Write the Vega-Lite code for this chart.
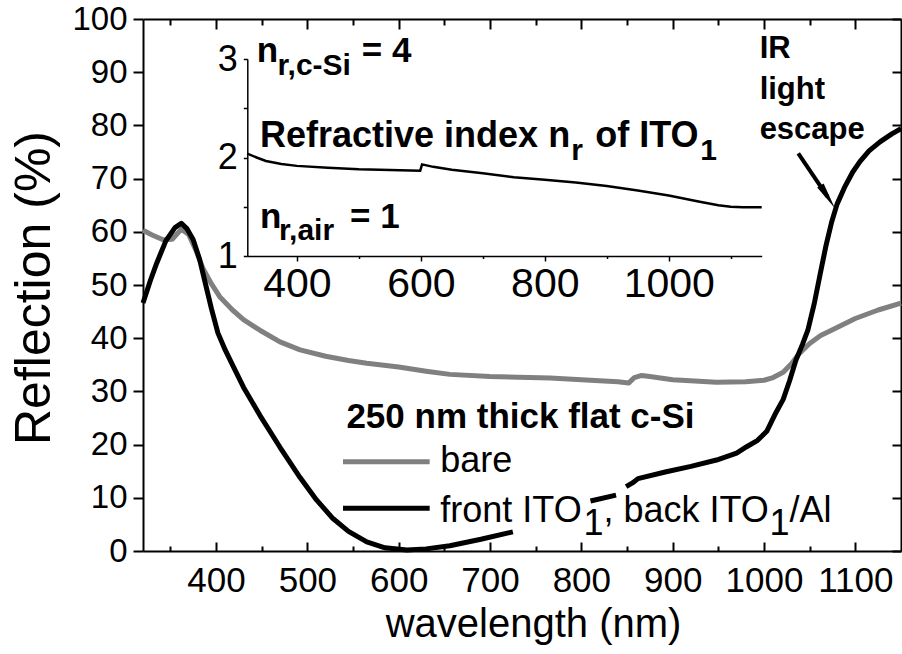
{
  "$schema": "https://vega.github.io/schema/vega-lite/v6.json",
  "width": 758,
  "height": 532,
  "autosize": {"type": "none"},
  "padding": {"left": 143, "top": 19, "right": 1, "bottom": 103},
  "background": "white",
  "config": {
    "view": {"stroke": null},
    "font": "Liberation Sans",
    "axis": {"grid": false, "domainColor": "#000", "tickColor": "#000", "labelColor": "#000", "titleColor": "#000", "labelFont": "Liberation Sans", "titleFont": "Liberation Sans", "titleFontWeight": "normal", "labelFlush": false, "labelOverlap": false, "format": "d"}
  },
  "datasets": {
    "main": [
      {"wl": 320, "R": 60.3, "series": "bare", "seg": "g"},
      {"wl": 330, "R": 59.4, "series": "bare", "seg": "g"},
      {"wl": 342, "R": 58.5, "series": "bare", "seg": "g"},
      {"wl": 352, "R": 58.6, "series": "bare", "seg": "g"},
      {"wl": 362, "R": 60.5, "series": "bare", "seg": "g"},
      {"wl": 370, "R": 59.5, "series": "bare", "seg": "g"},
      {"wl": 378, "R": 56.5, "series": "bare", "seg": "g"},
      {"wl": 386, "R": 53.0, "series": "bare", "seg": "g"},
      {"wl": 395, "R": 50.2, "series": "bare", "seg": "g"},
      {"wl": 404, "R": 47.8, "series": "bare", "seg": "g"},
      {"wl": 418, "R": 45.3, "series": "bare", "seg": "g"},
      {"wl": 430, "R": 43.5, "series": "bare", "seg": "g"},
      {"wl": 448, "R": 41.5, "series": "bare", "seg": "g"},
      {"wl": 470, "R": 39.3, "series": "bare", "seg": "g"},
      {"wl": 492, "R": 37.8, "series": "bare", "seg": "g"},
      {"wl": 520, "R": 36.6, "series": "bare", "seg": "g"},
      {"wl": 545, "R": 35.8, "series": "bare", "seg": "g"},
      {"wl": 565, "R": 35.3, "series": "bare", "seg": "g"},
      {"wl": 600, "R": 34.6, "series": "bare", "seg": "g"},
      {"wl": 630, "R": 33.8, "series": "bare", "seg": "g"},
      {"wl": 656, "R": 33.2, "series": "bare", "seg": "g"},
      {"wl": 700, "R": 32.8, "series": "bare", "seg": "g"},
      {"wl": 766, "R": 32.5, "series": "bare", "seg": "g"},
      {"wl": 800, "R": 32.2, "series": "bare", "seg": "g"},
      {"wl": 840, "R": 31.8, "series": "bare", "seg": "g"},
      {"wl": 852, "R": 31.6, "series": "bare", "seg": "g"},
      {"wl": 858, "R": 32.6, "series": "bare", "seg": "g"},
      {"wl": 866, "R": 33.0, "series": "bare", "seg": "g"},
      {"wl": 875, "R": 32.8, "series": "bare", "seg": "g"},
      {"wl": 900, "R": 32.2, "series": "bare", "seg": "g"},
      {"wl": 948, "R": 31.7, "series": "bare", "seg": "g"},
      {"wl": 980, "R": 31.8, "series": "bare", "seg": "g"},
      {"wl": 1000, "R": 32.1, "series": "bare", "seg": "g"},
      {"wl": 1010, "R": 32.6, "series": "bare", "seg": "g"},
      {"wl": 1021, "R": 33.6, "series": "bare", "seg": "g"},
      {"wl": 1030, "R": 35.2, "series": "bare", "seg": "g"},
      {"wl": 1039, "R": 37.2, "series": "bare", "seg": "g"},
      {"wl": 1050, "R": 39.0, "series": "bare", "seg": "g"},
      {"wl": 1062, "R": 40.5, "series": "bare", "seg": "g"},
      {"wl": 1075, "R": 41.6, "series": "bare", "seg": "g"},
      {"wl": 1100, "R": 43.7, "series": "bare", "seg": "g"},
      {"wl": 1125, "R": 45.3, "series": "bare", "seg": "g"},
      {"wl": 1150, "R": 46.6, "series": "bare", "seg": "g"},
      {"wl": 320, "R": 46.6, "series": "front", "seg": "b1"},
      {"wl": 328, "R": 50.8, "series": "front", "seg": "b1"},
      {"wl": 335, "R": 54.1, "series": "front", "seg": "b1"},
      {"wl": 345, "R": 58.3, "series": "front", "seg": "b1"},
      {"wl": 355, "R": 60.8, "series": "front", "seg": "b1"},
      {"wl": 362, "R": 61.6, "series": "front", "seg": "b1"},
      {"wl": 368, "R": 60.6, "series": "front", "seg": "b1"},
      {"wl": 375, "R": 58.5, "series": "front", "seg": "b1"},
      {"wl": 382, "R": 54.8, "series": "front", "seg": "b1"},
      {"wl": 389, "R": 49.8, "series": "front", "seg": "b1"},
      {"wl": 395, "R": 45.5, "series": "front", "seg": "b1"},
      {"wl": 402, "R": 41.0, "series": "front", "seg": "b1"},
      {"wl": 410, "R": 37.8, "series": "front", "seg": "b1"},
      {"wl": 418, "R": 35.0, "series": "front", "seg": "b1"},
      {"wl": 430, "R": 30.8, "series": "front", "seg": "b1"},
      {"wl": 448, "R": 25.5, "series": "front", "seg": "b1"},
      {"wl": 470, "R": 19.5, "series": "front", "seg": "b1"},
      {"wl": 492, "R": 13.8, "series": "front", "seg": "b1"},
      {"wl": 510, "R": 9.6, "series": "front", "seg": "b1"},
      {"wl": 528, "R": 6.1, "series": "front", "seg": "b1"},
      {"wl": 545, "R": 3.7, "series": "front", "seg": "b1"},
      {"wl": 565, "R": 1.7, "series": "front", "seg": "b1"},
      {"wl": 585, "R": 0.6, "series": "front", "seg": "b1"},
      {"wl": 609, "R": 0.2, "series": "front", "seg": "b1"},
      {"wl": 630, "R": 0.4, "series": "front", "seg": "b1"},
      {"wl": 656, "R": 1.0, "series": "front", "seg": "b1"},
      {"wl": 690, "R": 2.2, "series": "front", "seg": "b1"},
      {"wl": 725, "R": 3.6, "series": "front", "seg": "b1"},
      {"wl": 810, "R": 9.4, "series": "front", "seg": "b2"},
      {"wl": 838, "R": 10.5, "series": "front", "seg": "b2"},
      {"wl": 849, "R": 12.1, "series": "front", "seg": "b3"},
      {"wl": 856, "R": 12.8, "series": "front", "seg": "b3"},
      {"wl": 862, "R": 13.6, "series": "front", "seg": "b3"},
      {"wl": 893, "R": 14.9, "series": "front", "seg": "b3"},
      {"wl": 920, "R": 15.9, "series": "front", "seg": "b3"},
      {"wl": 948, "R": 17.1, "series": "front", "seg": "b3"},
      {"wl": 970, "R": 18.4, "series": "front", "seg": "b3"},
      {"wl": 981, "R": 19.6, "series": "front", "seg": "b3"},
      {"wl": 993, "R": 20.8, "series": "front", "seg": "b3"},
      {"wl": 1003, "R": 22.5, "series": "front", "seg": "b3"},
      {"wl": 1013, "R": 26.0, "series": "front", "seg": "b3"},
      {"wl": 1021, "R": 28.5, "series": "front", "seg": "b3"},
      {"wl": 1028, "R": 32.0, "series": "front", "seg": "b3"},
      {"wl": 1035, "R": 35.9, "series": "front", "seg": "b3"},
      {"wl": 1042, "R": 38.8, "series": "front", "seg": "b3"},
      {"wl": 1048, "R": 41.5, "series": "front", "seg": "b3"},
      {"wl": 1055, "R": 46.5, "series": "front", "seg": "b3"},
      {"wl": 1062, "R": 52.5, "series": "front", "seg": "b3"},
      {"wl": 1068, "R": 57.5, "series": "front", "seg": "b3"},
      {"wl": 1074, "R": 61.8, "series": "front", "seg": "b3"},
      {"wl": 1080, "R": 65.2, "series": "front", "seg": "b3"},
      {"wl": 1088, "R": 68.3, "series": "front", "seg": "b3"},
      {"wl": 1097, "R": 71.2, "series": "front", "seg": "b3"},
      {"wl": 1105, "R": 73.2, "series": "front", "seg": "b3"},
      {"wl": 1115, "R": 75.2, "series": "front", "seg": "b3"},
      {"wl": 1127, "R": 76.9, "series": "front", "seg": "b3"},
      {"wl": 1140, "R": 78.4, "series": "front", "seg": "b3"},
      {"wl": 1150, "R": 79.4, "series": "front", "seg": "b3"}
    ],
    "inset": [
      {"wl": 320, "n": 2.04},
      {"wl": 335, "n": 2.0},
      {"wl": 350, "n": 1.965},
      {"wl": 375, "n": 1.935},
      {"wl": 400, "n": 1.915},
      {"wl": 450, "n": 1.895},
      {"wl": 500, "n": 1.88},
      {"wl": 550, "n": 1.872},
      {"wl": 599, "n": 1.866},
      {"wl": 602, "n": 1.93},
      {"wl": 620, "n": 1.905},
      {"wl": 650, "n": 1.875},
      {"wl": 700, "n": 1.84},
      {"wl": 750, "n": 1.80},
      {"wl": 800, "n": 1.775},
      {"wl": 850, "n": 1.745},
      {"wl": 900, "n": 1.71},
      {"wl": 950, "n": 1.665},
      {"wl": 1000, "n": 1.615},
      {"wl": 1050, "n": 1.55},
      {"wl": 1080, "n": 1.515},
      {"wl": 1100, "n": 1.50},
      {"wl": 1120, "n": 1.494},
      {"wl": 1150, "n": 1.494}
    ]
  },
  "layer": [
    {
      "data": {"name": "main"},
      "layer": [
        {
          "mark": {"type": "line", "strokeWidth": 5, "strokeJoin": "round", "strokeCap": "butt"},
          "encoding": {
            "x": {"field": "wl", "type": "quantitative",
              "scale": {"domain": [320, 1150], "nice": false, "zero": false},
              "axis": {"orient": "bottom", "values": [400, 500, 600, 700, 800, 900, 1000, 1100], "format": "d", "tickSize": -9, "tickWidth": 2, "domainWidth": 2, "labelFontSize": 35, "labelBaseline": "alphabetic", "labelPadding": 49.7, "title": "wavelength (nm)", "titleFontSize": 40, "titleX": 390, "titleY": 85.7, "titleBaseline": "alphabetic", "titleAlign": "center"}},
            "y": {"field": "R", "type": "quantitative",
              "scale": {"domain": [0, 100], "nice": false, "zero": false},
              "axis": {"orient": "left", "values": [0, 10, 20, 30, 40, 50, 60, 70, 80, 90, 100], "format": "d", "tickSize": 10, "tickWidth": 2, "domainWidth": 2, "labelFontSize": 33, "labelPadding": 6, "title": "Reflection (%)", "titleFontSize": 50, "titleAngle": -90, "titleX": -94, "titleY": 268.5, "titleBaseline": "alphabetic", "titleAlign": "center"}},
            "color": {"field": "series", "type": "nominal", "scale": {"domain": ["bare", "front"], "range": ["#808080", "#000000"]}, "legend": null},
            "detail": {"field": "seg"}
          }
        },
        {
          "mark": {"type": "rule", "opacity": 0},
          "encoding": {
            "x": {"field": "wl", "type": "quantitative",
              "axis": {"orient": "bottom", "values": [350, 450, 550, 650, 750, 850, 950, 1050], "tickSize": -5, "tickWidth": 2, "domain": false, "labels": false, "title": null}}
          }
        },
        {
          "mark": {"type": "rule", "opacity": 0},
          "encoding": {
            "x": {"field": "wl", "type": "quantitative",
              "axis": {"orient": "top", "values": [400, 500, 600, 700, 800, 900, 1000, 1100], "tickSize": -10, "tickWidth": 2, "domainWidth": 2, "labels": false, "title": null}}
          }
        },
        {
          "mark": {"type": "rule", "opacity": 0},
          "encoding": {
            "x": {"field": "wl", "type": "quantitative",
              "axis": {"orient": "top", "values": [350, 450, 550, 650, 750, 850, 950, 1050], "tickSize": -6, "tickWidth": 2, "domain": false, "labels": false, "title": null}}
          }
        },
        {
          "mark": {"type": "rule", "opacity": 0},
          "encoding": {
            "y": {"field": "R", "type": "quantitative",
              "axis": {"orient": "right", "values": [0, 10, 20, 30, 40, 50, 60, 70, 80, 90, 100], "tickSize": -9, "tickWidth": 2, "domainWidth": 2, "labels": false, "title": null}}
          }
        },
        {
          "data": {"values": [{}]},
          "mark": {"type": "text", "text": "250 nm thick flat c-Si", "align": "left", "baseline": "alphabetic", "font": "Liberation Sans", "fontSize": 35, "fontWeight": "bold", "color": "black"},
          "encoding": {"x": {"datum": 542.7, "type": "quantitative", "axis": null}, "y": {"datum": 23.06, "type": "quantitative", "axis": null}}
        },
        {
          "data": {"values": [{}]},
          "mark": {"type": "rule", "color": "#808080", "strokeWidth": 5},
          "encoding": {"x": {"datum": 539, "type": "quantitative", "axis": null}, "x2": {"datum": 633.9}, "y": {"datum": 16.79, "type": "quantitative", "axis": null}}
        },
        {
          "data": {"values": [{}]},
          "mark": {"type": "rule", "color": "#000000", "strokeWidth": 5},
          "encoding": {"x": {"datum": 539, "type": "quantitative", "axis": null}, "x2": {"datum": 633.9}, "y": {"datum": 8.03, "type": "quantitative", "axis": null}}
        },
        {
          "data": {"values": [{}]},
          "mark": {"type": "text", "text": "bare", "align": "left", "baseline": "alphabetic", "font": "Liberation Sans", "fontSize": 36, "color": "black"},
          "encoding": {"x": {"datum": 645.5, "type": "quantitative", "axis": null}, "y": {"datum": 14.9, "type": "quantitative", "axis": null}}
        },
        {
          "data": {"values": [{}]},
          "mark": {"type": "text", "text": "front ITO", "align": "left", "baseline": "alphabetic", "font": "Liberation Sans", "fontSize": 36, "color": "black"},
          "encoding": {"x": {"datum": 645.5, "type": "quantitative", "axis": null}, "y": {"datum": 5.51, "type": "quantitative", "axis": null}}
        },
        {
          "data": {"values": [{}]},
          "mark": {"type": "text", "text": "1", "align": "left", "baseline": "alphabetic", "font": "Liberation Sans", "fontSize": 36, "color": "black"},
          "encoding": {"x": {"datum": 802.3, "type": "quantitative", "axis": null}, "y": {"datum": 3.1, "type": "quantitative", "axis": null}}
        },
        {
          "data": {"values": [{}]},
          "mark": {"type": "text", "text": ", back ITO", "align": "left", "baseline": "alphabetic", "font": "Liberation Sans", "fontSize": 36, "color": "black"},
          "encoding": {"x": {"datum": 824.2, "type": "quantitative", "axis": null}, "y": {"datum": 5.51, "type": "quantitative", "axis": null}}
        },
        {
          "data": {"values": [{}]},
          "mark": {"type": "text", "text": "1", "align": "left", "baseline": "alphabetic", "font": "Liberation Sans", "fontSize": 36, "color": "black"},
          "encoding": {"x": {"datum": 1006.1, "type": "quantitative", "axis": null}, "y": {"datum": 3.1, "type": "quantitative", "axis": null}}
        },
        {
          "data": {"values": [{}]},
          "mark": {"type": "text", "text": "/Al", "align": "left", "baseline": "alphabetic", "font": "Liberation Sans", "fontSize": 36, "color": "black"},
          "encoding": {"x": {"datum": 1028.0, "type": "quantitative", "axis": null}, "y": {"datum": 5.51, "type": "quantitative", "axis": null}}
        },
        {
          "data": {"values": [{}]},
          "mark": {"type": "text", "text": ["IR", "light", "escape"], "lineHeight": 40.5, "align": "left", "baseline": "alphabetic", "font": "Liberation Sans", "fontSize": 31, "fontWeight": "bold", "color": "black"},
          "encoding": {"x": {"datum": 995.2, "type": "quantitative", "axis": null}, "y": {"datum": 92.6, "type": "quantitative", "axis": null}}
        },
        {
          "data": {"values": [{}]},
          "mark": {"type": "rule", "color": "#000000", "strokeWidth": 4},
          "encoding": {"x": {"datum": 1037.5, "type": "quantitative", "axis": null}, "x2": {"datum": 1069.7}, "y": {"datum": 74.76, "type": "quantitative", "axis": null}, "y2": {"datum": 66.56}}
        },
        {
          "data": {"values": [{}]},
          "mark": {"type": "point", "shape": "M0,1L-0.28,-1L0.28,-1Z", "size": 729, "angle": 327.5, "filled": true, "color": "#000000", "opacity": 1, "strokeWidth": 0},
          "encoding": {"x": {"datum": 1069.7, "type": "quantitative", "axis": null}, "y": {"datum": 66.56, "type": "quantitative", "axis": null}}
        }
      ],
      "resolve": {"axis": {"x": "independent", "y": "independent"}}
    },
    {
      "data": {"name": "inset"},
      "layer": [
        {
          "mark": {"type": "line", "strokeWidth": 2.5, "color": "#000000"},
          "encoding": {
            "x": {"field": "wl", "type": "quantitative",
              "scale": {"domain": [320, 1150], "range": [104.3, 618.7], "nice": false, "zero": false},
              "axis": {"orient": "bottom", "offset": -295, "values": [400, 600, 800, 1000], "format": "d", "tickSize": 5, "tickWidth": 1.5, "domainWidth": 1.5, "labelFontSize": 41, "labelBaseline": "alphabetic", "labelPadding": 35.7, "title": null}},
            "y": {"field": "n", "type": "quantitative",
              "scale": {"domain": [1, 3], "range": [237, 40], "nice": false, "zero": false},
              "axis": {"orient": "left", "offset": -104.3, "values": [1, 3], "format": "d", "tickSize": 4, "tickWidth": 1.5, "domainWidth": 1.5, "labelFontSize": 36, "labelPadding": 6, "labelOverlap": false, "labelBound": false, "title": null}}
          }
        },
        {
          "mark": {"type": "rule", "opacity": 0},
          "encoding": {
            "x": {"field": "wl", "type": "quantitative",
              "axis": {"orient": "bottom", "offset": -295, "values": [500, 700, 900, 1100], "tickSize": 2.5, "tickWidth": 1.5, "domain": false, "labels": false, "title": null}}
          }
        },
        {
          "mark": {"type": "rule", "opacity": 0},
          "encoding": {
            "y": {"field": "n", "type": "quantitative",
              "axis": {"orient": "left", "offset": -104.3, "values": [2], "format": "d", "tickSize": 4, "tickWidth": 1.5, "domain": false, "labelFontSize": 36, "labelPadding": 6, "labelOverlap": false, "labelBound": false, "title": null}}
          }
        },
        {
          "mark": {"type": "rule", "opacity": 0},
          "encoding": {
            "y": {"field": "n", "type": "quantitative",
              "axis": {"orient": "left", "offset": -104.3, "values": [1.5, 2.5], "tickSize": 4, "tickWidth": 1.5, "domain": false, "labels": false, "title": null}}
          }
        },
        {
          "data": {"values": [{}]},
          "mark": {"type": "text", "text": "n", "align": "left", "baseline": "alphabetic", "font": "Liberation Sans", "fontSize": 35, "fontWeight": "bold", "color": "black"},
          "encoding": {"x": {"datum": 335.2, "type": "quantitative", "axis": null}, "y": {"datum": 2.973, "type": "quantitative", "axis": null}}
        },
        {
          "data": {"values": [{}]},
          "mark": {"type": "text", "text": "r,c-Si", "align": "left", "baseline": "alphabetic", "font": "Liberation Sans", "fontSize": 30, "fontWeight": "bold", "color": "black"},
          "encoding": {"x": {"datum": 368.8, "type": "quantitative", "axis": null}, "y": {"datum": 2.838, "type": "quantitative", "axis": null}}
        },
        {
          "data": {"values": [{}]},
          "mark": {"type": "text", "text": "= 4", "align": "left", "baseline": "alphabetic", "font": "Liberation Sans", "fontSize": 35, "fontWeight": "bold", "color": "black"},
          "encoding": {"x": {"datum": 504.7, "type": "quantitative", "axis": null}, "y": {"datum": 2.973, "type": "quantitative", "axis": null}}
        },
        {
          "data": {"values": [{}]},
          "mark": {"type": "text", "text": "Refractive index n", "align": "left", "baseline": "alphabetic", "font": "Liberation Sans", "fontSize": 36, "fontWeight": "bold", "color": "black"},
          "encoding": {"x": {"datum": 340.5, "type": "quantitative", "axis": null}, "y": {"datum": 2.11, "type": "quantitative", "axis": null}}
        },
        {
          "data": {"values": [{}]},
          "mark": {"type": "text", "text": "r", "align": "left", "baseline": "alphabetic", "font": "Liberation Sans", "fontSize": 30, "fontWeight": "bold", "color": "black"},
          "encoding": {"x": {"datum": 842.7, "type": "quantitative", "axis": null}, "y": {"datum": 1.975, "type": "quantitative", "axis": null}}
        },
        {
          "data": {"values": [{}]},
          "mark": {"type": "text", "text": "of ITO", "align": "left", "baseline": "alphabetic", "font": "Liberation Sans", "fontSize": 36, "fontWeight": "bold", "color": "black"},
          "encoding": {"x": {"datum": 881.4, "type": "quantitative", "axis": null}, "y": {"datum": 2.11, "type": "quantitative", "axis": null}}
        },
        {
          "data": {"values": [{}]},
          "mark": {"type": "text", "text": "1", "align": "left", "baseline": "alphabetic", "font": "Liberation Sans", "fontSize": 30, "fontWeight": "bold", "color": "black"},
          "encoding": {"x": {"datum": 1051, "type": "quantitative", "axis": null}, "y": {"datum": 1.975, "type": "quantitative", "axis": null}}
        },
        {
          "data": {"values": [{}]},
          "mark": {"type": "text", "text": "n", "align": "left", "baseline": "alphabetic", "font": "Liberation Sans", "fontSize": 35, "fontWeight": "bold", "color": "black"},
          "encoding": {"x": {"datum": 340.5, "type": "quantitative", "axis": null}, "y": {"datum": 1.281, "type": "quantitative", "axis": null}}
        },
        {
          "data": {"values": [{}]},
          "mark": {"type": "text", "text": "r,air", "align": "left", "baseline": "alphabetic", "font": "Liberation Sans", "fontSize": 30, "fontWeight": "bold", "color": "black"},
          "encoding": {"x": {"datum": 371.2, "type": "quantitative", "axis": null}, "y": {"datum": 1.162, "type": "quantitative", "axis": null}}
        },
        {
          "data": {"values": [{}]},
          "mark": {"type": "text", "text": "= 1", "align": "left", "baseline": "alphabetic", "font": "Liberation Sans", "fontSize": 35, "fontWeight": "bold", "color": "black"},
          "encoding": {"x": {"datum": 485.8, "type": "quantitative", "axis": null}, "y": {"datum": 1.281, "type": "quantitative", "axis": null}}
        }
      ],
      "resolve": {"axis": {"x": "independent", "y": "independent"}}
    }
  ],
  "resolve": {"scale": {"x": "independent", "y": "independent"}}
}
